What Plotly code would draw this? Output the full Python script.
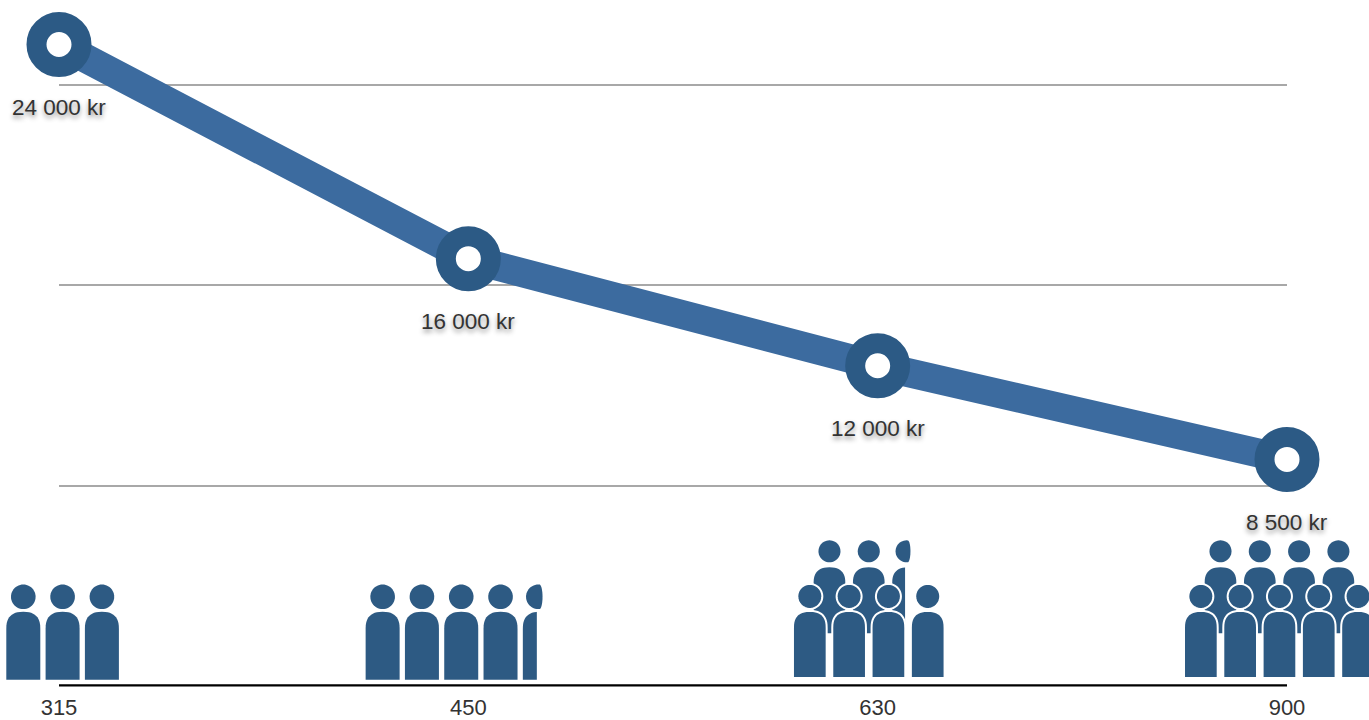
import numpy as np
import plotly.graph_objects as go

# ---- data ----
categories = ["315", "450", "630", "900"]
prices = [24000, 16000, 12000, 8500]
price_labels = ["24 000 kr", "16 000 kr", "12 000 kr", "8 500 kr"]
people_front = [3, 4.5, 4, 5]
people_back = [0, 0, 2.5, 4]
grid_ticks = [0, 7500, 15000, 22500]

# ---- style ----
W, H = 1369, 720
ML, MR, MT, MB = 59, 82, 0, 33.3
LINE_C = "#3c6b9f"
RING_C = "#2c5a85"
ICON_C = "#2d5a83"
TEXT_C = "#333333"
FONT = "Liberation Sans, Arial, sans-serif"
GROUP_LEFT = [-52.7, -102.7, -83.7, -102.0]   # px offset of first icon from the category tick
STEP = 39.3
LIFT = 1.7        # px between the value zero line and the drawn baseline

rows = {
    "single": dict(hw=17.0, r=12.3, base=5.5, top=73.5, hy=88.5),
    "front": dict(hw=15.85, r=11.5, base=7.3, top=73.3, hy=88.9),
    "back": dict(hw=15.85, r=11.0, base=52.0, top=118.0, hy=134.0),
}


def path_of(xs, ys):
    pts = [f"{x:.2f},{y + LIFT:.2f}" for x, y in zip(xs, ys)]
    return "M" + " L".join(pts) + " Z"


def person(cx, g, frac, grow=0.0):
    """Icon outlines in pixels from the anchor; a partial person is cut off on its right side."""
    t = np.linspace(0, 2 * np.pi, 49)[:-1]
    hcx = cx if frac >= 1 else cx - 1.5
    hx = hcx + (g["r"] + grow) * np.cos(t)
    hy = g["hy"] + (g["r"] + grow) * np.sin(t)
    a = np.linspace(np.pi, 0, 25)
    hw = g["hw"] + grow
    ax = cx + hw * np.sign(np.cos(a)) * np.abs(np.cos(a)) ** 0.8
    ay = g["top"] + grow - hw + hw * np.abs(np.sin(a)) ** 0.8
    bx = np.concatenate([[cx - hw], ax, [cx + hw]])
    by = np.concatenate([[g["base"]], ay, [g["base"]]])
    if frac < 1:
        bx = np.minimum(bx, cx - 3)
        cut = hcx + 1.5
        hx = np.where(hx > cut, cut + (hx - cut) * 0.25, hx)
    return path_of(hx, hy), path_of(bx, by)


shapes = [dict(type="line", xref="paper", yref="paper", ysizemode="pixel", yanchor=0,
               x0=0, x1=1, y0=LIFT, y1=LIFT, line=dict(color="black", width=2.2), layer="above")]


def add_row(i, left, count, g, ring):
    k = 0
    while k < count:
        frac = min(1, count - k)
        cx = left + g["hw"] + k * STEP
        for p in person(cx, g, frac, grow=1.0 if ring else 0.0):
            shapes.append(dict(
                type="path", path=p, xref="paper", yref="paper",
                xsizemode="pixel", ysizemode="pixel",
                xanchor=i / (len(categories) - 1), yanchor=0,
                fillcolor=ICON_C, layer="above",
                line=dict(color="white", width=2) if ring else dict(width=0),
            ))
        k += 1


for i in range(len(categories)):
    stacked = people_back[i] > 0
    if stacked:
        add_row(i, GROUP_LEFT[i] + STEP / 2, people_back[i], rows["back"], False)
        add_row(i, GROUP_LEFT[i], people_front[i], rows["front"], True)
    else:
        add_row(i, GROUP_LEFT[i], people_front[i], rows["single"], False)

fig = go.Figure()
fig.add_trace(go.Scatter(
    x=categories, y=prices, mode="lines+markers", cliponaxis=False,
    line=dict(color=LINE_C, width=29),
    marker=dict(size=45, color="white", line=dict(color=RING_C, width=20)),
    hoverinfo="skip", showlegend=False,
))

annotations = [
    dict(x=i, y=v, text=t, showarrow=False, xanchor="center", yanchor="middle", yshift=-63,
         font=dict(family=FONT, size=22.5, color=TEXT_C, shadow="0px 3px 5px rgba(0,0,0,0.45)"))
    for i, (v, t) in enumerate(zip(prices, price_labels))
]

fig.update_layout(
    template="none",
    width=W, height=H, margin=dict(l=ML, r=MR, t=MT, b=MB, pad=0),
    paper_bgcolor="white", plot_bgcolor="white", showlegend=False,
    shapes=shapes, annotations=annotations,
    font=dict(family=FONT, color=TEXT_C),
    xaxis=dict(type="category", range=[0, 3], categoryorder="array", categoryarray=categories,
               automargin=False, showgrid=False, zeroline=False, showline=False,
               ticks="outside", ticklen=1, tickcolor="rgba(0,0,0,0)",
               tickfont=dict(family=FONT, size=22, color=TEXT_C)),
    yaxis=dict(range=[0, 25661], tickvals=grid_ticks[1:], showticklabels=False, ticks="",
               automargin=False, showgrid=True, gridcolor="#a8a8a8", gridwidth=1.5,
               zeroline=False, showline=False),
)

fig.write_html("out.html", config={"displayModeBar": False},
               post_script="document.body.style.margin='0';document.body.style.overflow='hidden';")
